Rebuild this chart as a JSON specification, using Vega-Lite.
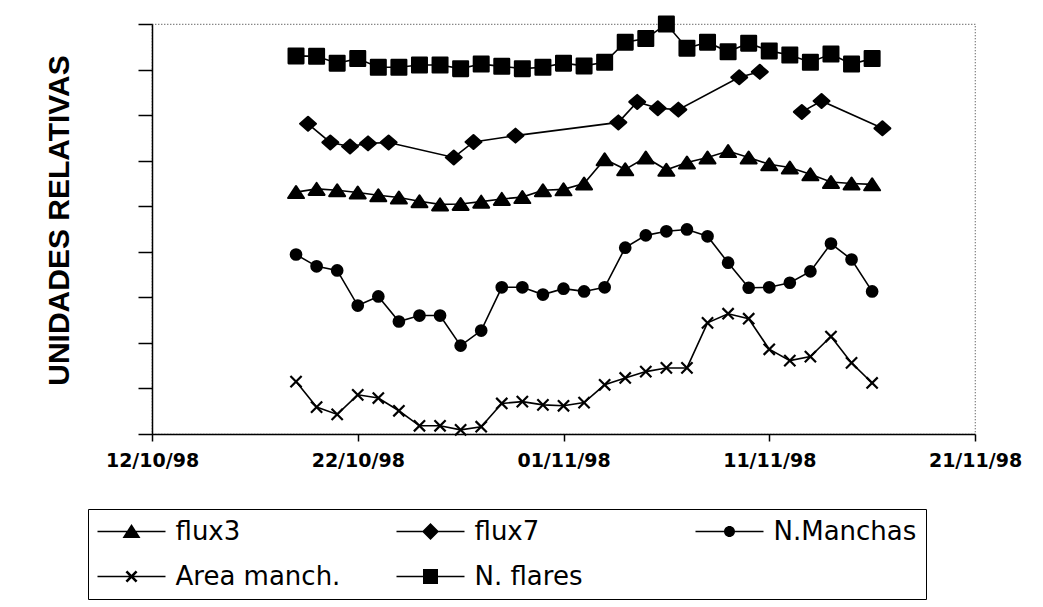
{
  "$schema": "https://vega.github.io/schema/vega-lite/v6.json",
  "autosize": {"type": "none"},
  "padding": {"left": 152, "top": 24, "right": 68, "bottom": 173},
  "width": 823,
  "height": 410,
  "background": "white",
  "config": {
    "view": {"stroke": "#555", "strokeDash": [1, 2], "strokeWidth": 1.2},
    "axis": {"domainColor": "black", "domainWidth": 1.5, "tickColor": "black", "tickWidth": 1.5, "grid": false, "labelColor": "black", "titleColor": "black"}
  },
  "data": {"values": [
    {"series":"flux3","date":"1998-10-19T00:00","value":5.31},{"series":"flux3","date":"1998-10-20T00:00","value":5.38},{"series":"flux3","date":"1998-10-21T00:00","value":5.35},{"series":"flux3","date":"1998-10-22T00:00","value":5.30},{"series":"flux3","date":"1998-10-23T00:00","value":5.24},{"series":"flux3","date":"1998-10-24T00:00","value":5.19},{"series":"flux3","date":"1998-10-25T00:00","value":5.11},{"series":"flux3","date":"1998-10-26T00:00","value":5.04},{"series":"flux3","date":"1998-10-27T00:00","value":5.05},{"series":"flux3","date":"1998-10-28T00:00","value":5.10},{"series":"flux3","date":"1998-10-29T00:00","value":5.16},{"series":"flux3","date":"1998-10-30T00:00","value":5.20},{"series":"flux3","date":"1998-10-31T00:00","value":5.35},{"series":"flux3","date":"1998-11-01T00:00","value":5.37},{"series":"flux3","date":"1998-11-02T00:00","value":5.50},{"series":"flux3","date":"1998-11-03T00:00","value":6.03},{"series":"flux3","date":"1998-11-04T00:00","value":5.81},{"series":"flux3","date":"1998-11-05T00:00","value":6.07},{"series":"flux3","date":"1998-11-06T00:00","value":5.80},{"series":"flux3","date":"1998-11-07T00:00","value":5.96},{"series":"flux3","date":"1998-11-08T00:00","value":6.07},{"series":"flux3","date":"1998-11-09T00:00","value":6.21},{"series":"flux3","date":"1998-11-10T00:00","value":6.07},{"series":"flux3","date":"1998-11-11T00:00","value":5.92},{"series":"flux3","date":"1998-11-12T00:00","value":5.85},{"series":"flux3","date":"1998-11-13T00:00","value":5.70},{"series":"flux3","date":"1998-11-14T00:00","value":5.53},{"series":"flux3","date":"1998-11-15T00:00","value":5.50},{"series":"flux3","date":"1998-11-16T00:00","value":5.48},
    {"series":"flux7","date":"1998-10-19T14:00","value":6.81},{"series":"flux7","date":"1998-10-20T16:00","value":6.40},{"series":"flux7","date":"1998-10-21T15:00","value":6.31},{"series":"flux7","date":"1998-10-22T12:00","value":6.38},{"series":"flux7","date":"1998-10-23T12:00","value":6.40},{"series":"flux7","date":"1998-10-26T16:00","value":6.07},{"series":"flux7","date":"1998-10-27T15:00","value":6.41},{"series":"flux7","date":"1998-10-29T16:00","value":6.55},{"series":"flux7","date":"1998-11-03T16:00","value":6.84},{"series":"flux7","date":"1998-11-04T14:00","value":7.29},{"series":"flux7","date":"1998-11-05T14:00","value":7.15},{"series":"flux7","date":"1998-11-06T14:00","value":7.12},{"series":"flux7","date":"1998-11-09T13:00","value":7.83},{"series":"flux7","date":"1998-11-10T13:00","value":7.95},{"series":"flux7","date":"1998-11-11T13:00","value":null},{"series":"flux7","date":"1998-11-12T14:00","value":7.07},{"series":"flux7","date":"1998-11-13T13:00","value":7.31},{"series":"flux7","date":"1998-11-16T12:00","value":6.71},
    {"series":"N.Manchas","date":"1998-10-19T00:00","value":3.94},{"series":"N.Manchas","date":"1998-10-20T00:00","value":3.68},{"series":"N.Manchas","date":"1998-10-21T00:00","value":3.59},{"series":"N.Manchas","date":"1998-10-22T00:00","value":2.82},{"series":"N.Manchas","date":"1998-10-23T00:00","value":3.02},{"series":"N.Manchas","date":"1998-10-24T00:00","value":2.47},{"series":"N.Manchas","date":"1998-10-25T00:00","value":2.60},{"series":"N.Manchas","date":"1998-10-26T00:00","value":2.60},{"series":"N.Manchas","date":"1998-10-27T00:00","value":1.94},{"series":"N.Manchas","date":"1998-10-28T00:00","value":2.27},{"series":"N.Manchas","date":"1998-10-29T00:00","value":3.22},{"series":"N.Manchas","date":"1998-10-30T00:00","value":3.22},{"series":"N.Manchas","date":"1998-10-31T00:00","value":3.06},{"series":"N.Manchas","date":"1998-11-01T00:00","value":3.19},{"series":"N.Manchas","date":"1998-11-02T00:00","value":3.13},{"series":"N.Manchas","date":"1998-11-03T00:00","value":3.22},{"series":"N.Manchas","date":"1998-11-04T00:00","value":4.09},{"series":"N.Manchas","date":"1998-11-05T00:00","value":4.36},{"series":"N.Manchas","date":"1998-11-06T00:00","value":4.45},{"series":"N.Manchas","date":"1998-11-07T00:00","value":4.49},{"series":"N.Manchas","date":"1998-11-08T00:00","value":4.34},{"series":"N.Manchas","date":"1998-11-09T00:00","value":3.76},{"series":"N.Manchas","date":"1998-11-10T00:00","value":3.21},{"series":"N.Manchas","date":"1998-11-11T00:00","value":3.22},{"series":"N.Manchas","date":"1998-11-12T00:00","value":3.32},{"series":"N.Manchas","date":"1998-11-13T00:00","value":3.57},{"series":"N.Manchas","date":"1998-11-14T00:00","value":4.18},{"series":"N.Manchas","date":"1998-11-15T00:00","value":3.83},{"series":"N.Manchas","date":"1998-11-16T00:00","value":3.13},
    {"series":"Area manch.","date":"1998-10-19T00:00","value":1.15},{"series":"Area manch.","date":"1998-10-20T00:00","value":0.59},{"series":"Area manch.","date":"1998-10-21T00:00","value":0.43},{"series":"Area manch.","date":"1998-10-22T00:00","value":0.86},{"series":"Area manch.","date":"1998-10-23T00:00","value":0.79},{"series":"Area manch.","date":"1998-10-24T00:00","value":0.51},{"series":"Area manch.","date":"1998-10-25T00:00","value":0.18},{"series":"Area manch.","date":"1998-10-26T00:00","value":0.18},{"series":"Area manch.","date":"1998-10-27T00:00","value":0.09},{"series":"Area manch.","date":"1998-10-28T00:00","value":0.16},{"series":"Area manch.","date":"1998-10-29T00:00","value":0.67},{"series":"Area manch.","date":"1998-10-30T00:00","value":0.71},{"series":"Area manch.","date":"1998-10-31T00:00","value":0.64},{"series":"Area manch.","date":"1998-11-01T00:00","value":0.62},{"series":"Area manch.","date":"1998-11-02T00:00","value":0.69},{"series":"Area manch.","date":"1998-11-03T00:00","value":1.08},{"series":"Area manch.","date":"1998-11-04T00:00","value":1.23},{"series":"Area manch.","date":"1998-11-05T00:00","value":1.37},{"series":"Area manch.","date":"1998-11-06T00:00","value":1.45},{"series":"Area manch.","date":"1998-11-07T00:00","value":1.45},{"series":"Area manch.","date":"1998-11-08T00:00","value":2.44},{"series":"Area manch.","date":"1998-11-09T00:00","value":2.64},{"series":"Area manch.","date":"1998-11-10T00:00","value":2.53},{"series":"Area manch.","date":"1998-11-11T00:00","value":1.86},{"series":"Area manch.","date":"1998-11-12T00:00","value":1.61},{"series":"Area manch.","date":"1998-11-13T00:00","value":1.70},{"series":"Area manch.","date":"1998-11-14T00:00","value":2.14},{"series":"Area manch.","date":"1998-11-15T00:00","value":1.56},{"series":"Area manch.","date":"1998-11-16T00:00","value":1.12},
    {"series":"N. flares","date":"1998-10-19T00:00","value":8.30},{"series":"N. flares","date":"1998-10-20T00:00","value":8.29},{"series":"N. flares","date":"1998-10-21T00:00","value":8.14},{"series":"N. flares","date":"1998-10-22T00:00","value":8.24},{"series":"N. flares","date":"1998-10-23T00:00","value":8.05},{"series":"N. flares","date":"1998-10-24T00:00","value":8.05},{"series":"N. flares","date":"1998-10-25T00:00","value":8.10},{"series":"N. flares","date":"1998-10-26T00:00","value":8.10},{"series":"N. flares","date":"1998-10-27T00:00","value":8.02},{"series":"N. flares","date":"1998-10-28T00:00","value":8.12},{"series":"N. flares","date":"1998-10-29T00:00","value":8.07},{"series":"N. flares","date":"1998-10-30T00:00","value":8.02},{"series":"N. flares","date":"1998-10-31T00:00","value":8.05},{"series":"N. flares","date":"1998-11-01T00:00","value":8.14},{"series":"N. flares","date":"1998-11-02T00:00","value":8.08},{"series":"N. flares","date":"1998-11-03T00:00","value":8.16},{"series":"N. flares","date":"1998-11-04T00:00","value":8.60},{"series":"N. flares","date":"1998-11-05T00:00","value":8.68},{"series":"N. flares","date":"1998-11-06T00:00","value":9.00},{"series":"N. flares","date":"1998-11-07T00:00","value":8.47},{"series":"N. flares","date":"1998-11-08T00:00","value":8.60},{"series":"N. flares","date":"1998-11-09T00:00","value":8.39},{"series":"N. flares","date":"1998-11-10T00:00","value":8.58},{"series":"N. flares","date":"1998-11-11T00:00","value":8.41},{"series":"N. flares","date":"1998-11-12T00:00","value":8.32},{"series":"N. flares","date":"1998-11-13T00:00","value":8.16},{"series":"N. flares","date":"1998-11-14T00:00","value":8.34},{"series":"N. flares","date":"1998-11-15T00:00","value":8.12},{"series":"N. flares","date":"1998-11-16T00:00","value":8.24}
  ]},
  "encoding": {
    "x": {
      "field": "date", "type": "temporal",
      "scale": {"domain": [{"year": 1998, "month": 10, "date": 12}, {"year": 1998, "month": 11, "date": 21}]},
      "axis": {
        "title": null,
        "values": [{"year": 1998, "month": 10, "date": 12}, {"year": 1998, "month": 10, "date": 22}, {"year": 1998, "month": 11, "date": 1}, {"year": 1998, "month": 11, "date": 11}, {"year": 1998, "month": 11, "date": 21}],
        "format": "%d/%m/%y",
        "labelFont": "DejaVu Sans", "labelFontSize": 19, "labelFontWeight": "bold",
        "labelFlush": false, "labelOverlap": false, "labelBound": false,
        "tickSize": 7, "labelPadding": 10
      }
    },
    "y": {
      "field": "value", "type": "quantitative",
      "scale": {"domain": [0, 9], "nice": false, "zero": false},
      "axis": {
        "title": "UNIDADES RELATIVAS",
        "values": [0, 1, 2, 3, 4, 5, 6, 7, 8, 9],
        "labels": false, "tickSize": 14,
        "titleFont": "Liberation Sans", "titleFontSize": 30, "titleFontWeight": "bold",
        "titleAngle": 270, "titleAlign": "center", "titleBaseline": "middle",
        "titleX": -93, "titleY": 196
      }
    }
  },
  "resolve": {"scale": {"shape": "independent"}},
  "layer": [
    {
      "mark": {"type": "line", "color": "black", "strokeWidth": 1.6, "invalid": "break-paths-show-domains"},
      "encoding": {"detail": {"field": "series"}}
    },
    {
      "transform": [{"filter": "datum.value != null"}],
      "mark": {"type": "point", "filled": true, "fill": "black", "stroke": "black", "strokeWidth": 2.2, "strokeJoin": "round", "size": 400, "opacity": 1},
      "encoding": {
        "shape": {
          "field": "series", "type": "nominal",
          "scale": {
            "domain": ["flux3", "flux7", "N.Manchas", "Area manch.", "N. flares"],
            "range": [
              "M0,-0.59L0.79,0.59L-0.79,0.59Z",
              "M0,-0.69L0.79,0L0,0.69L-0.79,0Z",
              "M-0.525,0A0.525,0.525,0,1,0,0.525,0A0.525,0.525,0,1,0,-0.525,0Z",
              "M-0.56,-0.56L0.56,0.56M-0.56,0.56L0.56,-0.56",
              "M-0.74,-0.74H0.74V0.74H-0.74Z"
            ]
          },
          "legend": null
        }
      }
    },
    {
      "transform": [{"filter": "false"}],
      "mark": {"type": "point", "filled": true, "color": "black", "size": 400, "opacity": 1},
      "encoding": {
        "shape": {
          "field": "series", "type": "nominal",
          "scale": {
            "domain": ["flux3", "flux7", "N.Manchas", "Area manch.", "N. flares"],
            "range": [
              "M-3.4,-0.08H3.4V0.08H-3.4ZM0,-0.75L0.9,0.65L-0.9,0.65Z",
              "M-3.4,-0.08H3.4V0.08H-3.4ZM0,-0.85L0.85,0L0,0.85L-0.85,0Z",
              "M-3.4,-0.08H3.4V0.08H-3.4ZM-0.55,0A0.55,0.55,0,1,1,0.55,0A0.55,0.55,0,1,1,-0.55,0Z",
              "M-3.4,-0.08H3.4V0.08H-3.4ZM0,-0.184L0.416,-0.6L0.6,-0.416L0.184,0L0.6,0.416L0.416,0.6L0,0.184L-0.416,0.6L-0.6,0.416L-0.184,0L-0.6,-0.416L-0.416,-0.6Z",
              "M-3.4,-0.08H3.4V0.08H-3.4ZM-0.75,-0.75H0.75V0.75H-0.75Z"
            ]
          },
          "legend": {
            "title": null,
            "orient": "none", "legendX": -64, "legendY": 485,
            "direction": "horizontal",
            "columns": 3, "gridAlign": "all", "columnPadding": 56, "rowPadding": 19,
            "padding": 9.5, "strokeColor": "black", "fillColor": "white",
            "symbolSize": 400, "symbolStrokeWidth": 0, "symbolOffset": 21,
            "symbolFillColor": "black",
            "labelOffset": 31, "labelLimit": 500,
            "labelFont": "DejaVu Sans", "labelFontSize": 26, "labelColor": "black"
          }
        }
      }
    }
  ]
}
